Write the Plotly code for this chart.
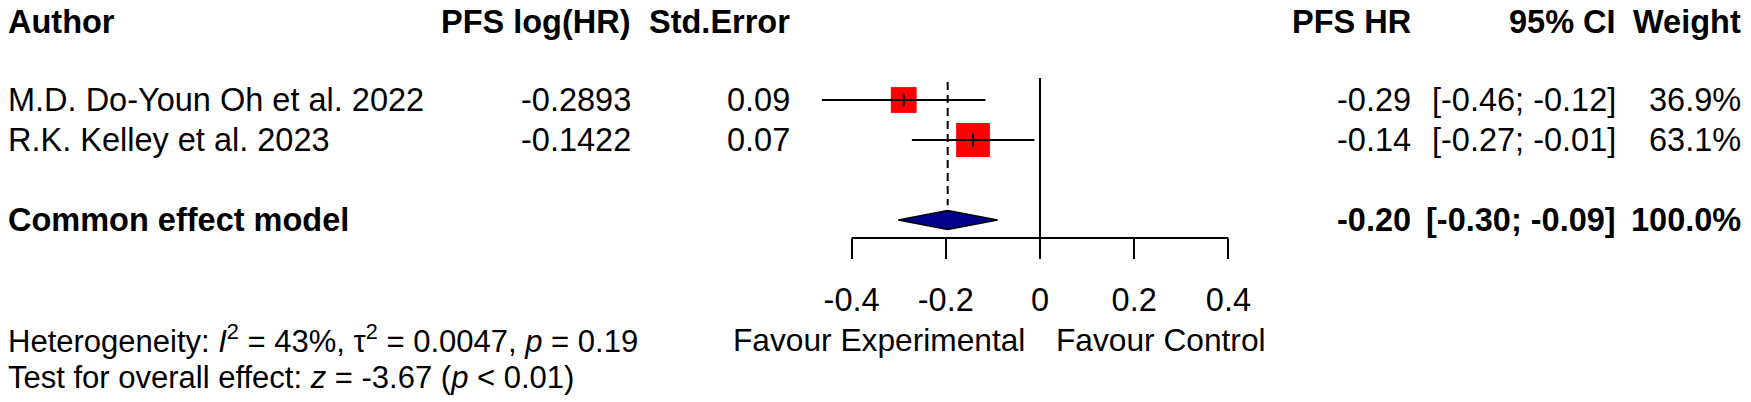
import numpy as np
import plotly.graph_objects as go

# study data
authors = ["M.D. Do-Youn Oh et al. 2022", "R.K. Kelley et al. 2023"]
log_hr = [-0.2893, -0.1422]
std_err = [0.09, 0.07]
ci_lower = [-0.463, -0.272]
ci_upper = [-0.116, -0.012]
weights = [36.9, 63.1]

# pooled (common effect) result
pooled_label = "Common effect model"
pooled_est = -0.196
pooled_lower = -0.301
pooled_upper = -0.090
pooled_weight = 100.0

tick_vals = [-0.4, -0.2, 0, 0.2, 0.4]
tick_text = ["-0.4", "-0.2", "0", "0.2", "0.4"]
headers = ["Author", "PFS log(HR)", "Std.Error", "PFS HR", "95% CI", "Weight"]
favour_left = "Favour Experimental"
favour_right = "Favour Control"
het_text = "Heterogeneity: <i>I</i><sup>2</sup> = 43%, τ<sup>2</sup> = 0.0047, <i>p</i> = 0.19"
test_text = "Test for overall effect: <i>z</i> = -3.67 (<i>p</i> < 0.01)"

FONT = "Liberation Sans, Arial, sans-serif"
W, H = 1751, 402
FS = 32.5

rows = [1, 2]          # study rows
pooled_row = 4

fig = go.Figure()

# weighted squares
fig.add_trace(go.Scatter(
    x=log_hr, y=rows, mode="markers",
    marker=dict(symbol="square", color="#ff0000", opacity=1,
                size=[4.25 * np.sqrt(w) for w in weights], line=dict(width=0)),
    hoverinfo="skip", showlegend=False))

# confidence intervals + centre tick
fig.add_trace(go.Scatter(
    x=log_hr, y=rows, mode="markers",
    marker=dict(symbol="line-ns", size=9, color="black",
                line=dict(color="black", width=2)),
    error_x=dict(type="data", symmetric=False,
                 array=[u - e for u, e in zip(ci_upper, log_hr)],
                 arrayminus=[e - l for e, l in zip(log_hr, ci_lower)],
                 width=0, thickness=2, color="black"),
    hoverinfo="skip", showlegend=False))

# dashed line at pooled estimate
fig.add_trace(go.Scatter(
    x=[pooled_est, pooled_est], y=[0.55, pooled_row - 0.37], mode="lines",
    line=dict(color="black", width=2, dash="8px,5px"),
    hoverinfo="skip", showlegend=False))

# diamond
dh = 0.24
fig.add_trace(go.Scatter(
    x=[pooled_lower, pooled_est, pooled_upper, pooled_est, pooled_lower],
    y=[pooled_row, pooled_row - dh, pooled_row, pooled_row + dh, pooled_row],
    mode="lines", fill="toself", fillcolor="#00008b",
    line=dict(color="black", width=1.5),
    hoverinfo="skip", showlegend=False))

# plot area geometry (pixels from top)
px_zero = 1040.0
px_per_unit = 471.0
top_px, axis_px = 78.0, 238.0

ann = []
def add(text, x_px, y_px, anchor, bold=False, size=FS):
    if bold:
        text = "<b>" + text + "</b>"
    ann.append(dict(text=text, x=x_px / W, xref="paper", y=1 - y_px / H, yref="paper",
                    xanchor=anchor, yanchor="middle", showarrow=False,
                    font=dict(family=FONT, size=size, color="black")))

def row_px(r):
    return 60 + 40 * r

col_x = [6, 633, 792, 1413, 1618, 1743]
col_anchor = ["left", "right", "right", "right", "right", "right"]
for h, cx, a in zip(headers, col_x, col_anchor):
    add(h, cx, 22, a, bold=True)

for i, r in enumerate(rows):
    y = row_px(r)
    add(authors[i], col_x[0], y, "left")
    add(f"{log_hr[i]:.4f}", col_x[1], y, "right")
    add(f"{std_err[i]:.2f}", col_x[2], y, "right")
    add(f"{log_hr[i]:.2f}", col_x[3], y, "right")
    add(f"[{ci_lower[i]:.2f}; {ci_upper[i]:.2f}]", col_x[4], y, "right")
    add(f"{weights[i]:.1f}%", col_x[5], y, "right")

yp = row_px(pooled_row)
add(pooled_label, col_x[0], yp, "left", bold=True)
add(f"{pooled_est:.2f}", col_x[3], yp, "right", bold=True)
add(f"[{pooled_lower:.2f}; {pooled_upper:.2f}]", col_x[4], yp, "right", bold=True)
add(f"{pooled_weight:.1f}%", col_x[5], yp, "right", bold=True)

add(favour_left, 1027, 340, "right", size=31.7)
add(favour_right, 1054, 340, "left", size=31.7)
add(het_text, col_x[0], 339, "left", size=31)
add(test_text, col_x[0], 377, "left", size=31)

# axis line only across tick range
shapes = [dict(type="line", xref="x", yref="y domain",
               x0=min(tick_vals), x1=max(tick_vals), y0=0, y1=0,
               line=dict(color="black", width=2))]

fig.update_layout(
    width=W, height=H,
    margin=dict(l=0, r=0, t=0, b=0),
    paper_bgcolor="white", plot_bgcolor="white",
    showlegend=False,
    annotations=ann, shapes=shapes,
    xaxis=dict(range=[-px_zero / px_per_unit, (W - px_zero) / px_per_unit],
               domain=[0, 1], showgrid=False,
               zeroline=True, zerolinecolor="black", zerolinewidth=2,
               showline=False, tickvals=tick_vals, ticktext=tick_text,
               ticks="outside", ticklen=20, tickwidth=2, tickcolor="black",
               ticklabelstandoff=13,
               tickfont=dict(family=FONT, size=FS, color="black")),
    yaxis=dict(range=[4.45, 0.45],
               domain=[(H - axis_px) / H, (H - top_px) / H],
               showgrid=False, zeroline=False, showticklabels=False,
               ticks=""),
    font=dict(family=FONT, size=FS, color="black"),
)

fig.write_html("out.html", config={"displayModeBar": False},
               post_script="document.body.style.margin='0';document.body.style.overflow='hidden';")
